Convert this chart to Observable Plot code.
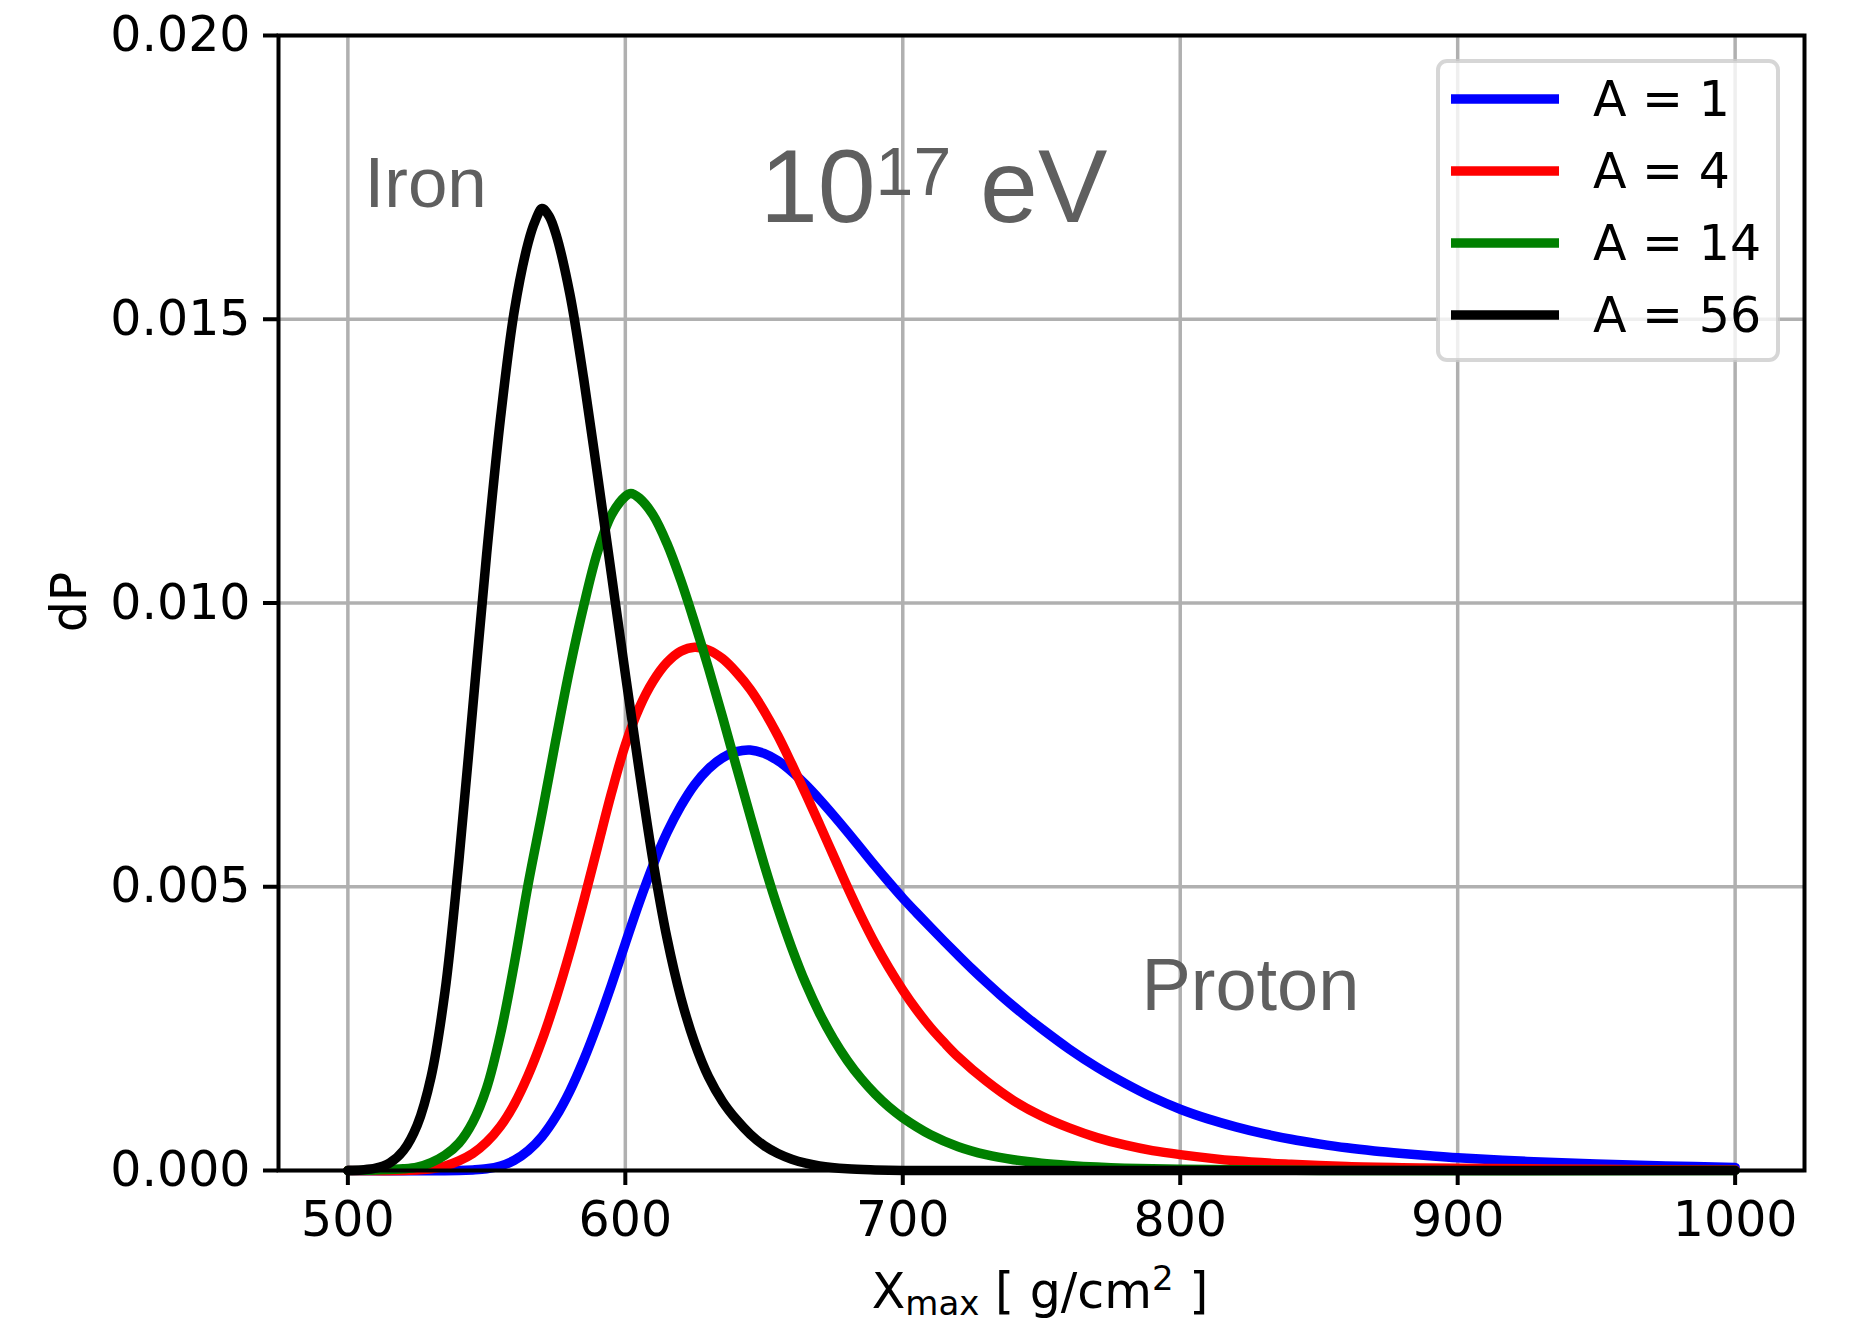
<!DOCTYPE html>
<html>
<head>
<meta charset="utf-8">
<script src="https://cdn.jsdelivr.net/npm/d3@7"></script>
<script src="https://cdn.jsdelivr.net/npm/@observablehq/plot@0.6"></script>
<style>
html, body { margin: 0; padding: 0; background: #fff; }
#wrap { position: relative; width: 1850px; height: 1323px; }
#legend { position: absolute; left: 1436px; top: 59px; }
</style>
</head>
<body>
<div id="wrap"></div>
<script>
// ---- Data ----
const seriesNames  = ["A = 1", "A = 4", "A = 14", "A = 56"];
const seriesColors = ["blue", "red", "green", "black"];

const xA1 = [500, 540, 545, 550, 555, 560, 565, 570, 575, 580, 585, 590, 595, 600, 605, 610, 615, 620, 625, 630, 635, 640, 645, 650, 655, 660, 665, 670, 675, 680, 685, 690, 695, 700,
             705, 710, 715, 720, 725, 730, 735, 740, 745, 750, 760, 770, 780, 790, 800, 810, 820, 830, 840, 850, 860, 870, 880, 890, 900, 925, 950, 975, 1000];
const yA1 = [0, 0, 0.00001, 0.00003, 0.00008, 0.00018, 0.00035, 0.0006, 0.00095, 0.0014, 0.00195, 0.00258, 0.00327, 0.004, 0.00472, 0.00538, 0.00595, 0.00642, 0.0068, 0.00708, 0.00727, 0.00738, 0.00741, 0.00735, 0.00722, 0.00703, 0.0068, 0.00654, 0.00626, 0.00597, 0.00567, 0.00537, 0.00508, 0.0048,
             0.00454, 0.004285, 0.004035, 0.00379, 0.00355, 0.00332, 0.0031, 0.00289, 0.00269, 0.0025, 0.00214, 0.00182, 0.00154, 0.00129, 0.00108, 0.00091, 0.00077, 0.00065, 0.00055, 0.00047, 0.0004, 0.000345, 0.0003, 0.00026, 0.000225, 0.00016, 0.000115, 0.00008, 0.000055];

const xA4 = [500, 520, 525, 530, 535, 540, 545, 550, 555, 560, 565, 570, 575, 580, 585, 590, 595, 600, 605, 610, 615, 620, 625, 630, 635, 640, 645, 650, 655, 660, 665, 670, 675, 680, 685, 690, 695, 700, 705, 710,
             715, 720, 730, 740, 750, 760, 770, 780, 790, 800, 820, 840, 860, 880, 900, 950, 1000];
const yA4 = [0, 0, 0.00001, 0.00003, 0.00008, 0.00017, 0.0003, 0.0005, 0.00078, 0.00117, 0.00168, 0.0023, 0.00303, 0.00385, 0.00475, 0.0057, 0.00665, 0.0075, 0.00815, 0.00862, 0.00895, 0.00915, 0.00922, 0.00917, 0.00902, 0.00878, 0.00848, 0.0081, 0.00766, 0.00716, 0.00664, 0.0061, 0.00555, 0.005, 0.00448, 0.004, 0.00357, 0.00318, 0.00283, 0.00252,
             0.00225, 0.002, 0.00158, 0.00123, 0.00096, 0.00075, 0.00058, 0.00045, 0.00035, 0.00028, 0.00017, 0.00011, 0.00007, 0.00005, 0.00004, 0.00002, 0.00001];

const xA14 = [500, 510, 520, 525, 530, 535, 540, 545, 550, 555, 560, 565, 570, 575, 580, 585, 590, 595, 600, 602, 605, 610, 615, 620, 625, 630, 635, 640, 645, 650, 655, 660, 665, 670, 675, 680, 685, 690, 695, 700,
              710, 720, 730, 740, 750, 760, 770, 780, 800, 850, 1000];
const yA14 = [0, 0.00001, 0.00003, 0.00006, 0.00014, 0.00027, 0.00048, 0.00085, 0.00145, 0.0024, 0.00365, 0.00505, 0.0063, 0.0076, 0.00885, 0.00995, 0.0109, 0.01155, 0.01188, 0.01193, 0.01185, 0.01155, 0.01105, 0.0104, 0.00965, 0.00885, 0.008, 0.00712, 0.00625, 0.0054, 0.00462, 0.00392, 0.0033, 0.00277, 0.00232, 0.00194, 0.00162, 0.00135, 0.00112, 0.00093,
              0.00063, 0.00042, 0.00028, 0.00019, 0.00013, 0.00009, 0.00006, 0.00004, 0.00002, 0, 0];

const xA56 = [500, 505, 510, 515, 520, 525, 530, 535, 540, 545, 550, 555, 560, 565, 567.5, 570, 572.5, 575, 580, 585, 590, 595, 600, 605, 610, 615, 620, 625, 630, 635, 640, 645, 650, 655, 660, 665, 670, 680, 690, 700, 750, 1000];
const yA56 = [0, 0.00001, 0.00004, 0.00013, 0.00035, 0.0008, 0.00165, 0.00315, 0.00545, 0.00815, 0.01085, 0.01325, 0.01515, 0.01635, 0.01673, 0.01695, 0.01682, 0.0165, 0.01545, 0.01395, 0.01225, 0.0105, 0.00875, 0.00705, 0.00545, 0.0041, 0.00305, 0.00225, 0.00165, 0.00122, 0.0009, 0.00064, 0.00044, 0.0003, 0.0002, 0.00013, 0.00008, 0.00003, 0.00001, 0, 0, 0];

const xTicks = [500, 600, 700, 800, 900, 1000];
const yTicks = [0, 0.005, 0.010, 0.015, 0.020];

const noteText = ["Iron", "Proton", "10^17 eV"];
const noteX    = [506, 786, 648.5];
const noteY    = [0.01697, 0.00282, 0.01671];
const noteSize = [71, 74, 104];

// ---- Build table ----
const xsAll = [xA1, xA4, xA14, xA56];
const ysAll = [yA1, yA4, yA14, yA56];
const rows = [];
seriesNames.forEach((name, i) => {
  xsAll[i].forEach((x, j) => rows.push({ series: name, x, y: ysAll[i][j] }));
});
const notes = noteText.map((t, i) => ({ t, x: noteX[i], y: noteY[i], s: noteSize[i] }));

const chart = Plot.plot({
  width: 1850,
  height: 1323,
  marginLeft: 278,
  marginRight: 46,
  marginTop: 35,
  marginBottom: 153,
  style: { fontFamily: "DejaVu Sans", fontSize: "49px", background: "white", color: "black", overflow: "visible" },
  x: { domain: [475, 1025] },
  y: { domain: [0, 0.02] },
  color: { domain: seriesNames, range: seriesColors },
  marks: [
    Plot.gridX(xTicks, { stroke: "#b0b0b0", strokeOpacity: 1, strokeWidth: 3.5 }),
    Plot.gridY(yTicks, { stroke: "#b0b0b0", strokeOpacity: 1, strokeWidth: 3.5 }),
    Plot.line(rows, { x: "x", y: "y", z: "series", stroke: "series", strokeWidth: 9.5, curve: "catmull-rom", strokeLinejoin: "round" }),
    ...notes.map(n => Plot.text([n], { x: "x", y: "y", text: "t", textAnchor: "start", lineAnchor: "bottom", fill: "#5f5f5f", fontSize: n.s, fontFamily: "Liberation Sans" })),
    Plot.axisX({ ticks: xTicks, tickSize: 15, tickPadding: 16, strokeWidth: 4, label: null, tickFormat: d3.format("d"), fontSize: 49 }),
    Plot.axisY({ ticks: yTicks, tickSize: 15, tickPadding: 13, strokeWidth: 4, label: null, tickFormat: d3.format(".3f"), fontSize: 49 }),
    Plot.frame({ stroke: "black", strokeWidth: 4 })
  ]
});

document.getElementById("wrap").appendChild(chart);

// Superscript in the energy annotation
d3.select(chart).selectAll("text").filter(function () { return this.textContent === "10^17 eV"; })
  .each(function () {
    const t = d3.select(this);
    t.text(null);
    t.append("tspan").text("10");
    t.append("tspan").attr("font-size", 68).attr("dy", -27).text("17");
    t.append("tspan").attr("dy", 27).text(" eV");
  });

// Axis titles
const svg = d3.select(chart);
const xl = svg.append("text")
  .attr("x", 1040).attr("y", 1308)
  .attr("text-anchor", "middle")
  .attr("font-family", "DejaVu Sans").attr("font-size", 49).attr("fill", "black");
xl.append("tspan").text("X");
xl.append("tspan").attr("font-size", 34).attr("dy", 7).text("max");
xl.append("tspan").attr("dy", -7).text(" [ g/cm");
xl.append("tspan").attr("font-size", 34).attr("dy", -18).text("2");
xl.append("tspan").attr("dy", 18).text(" ]");

svg.append("text")
  .attr("transform", "translate(86,602) rotate(-90)")
  .attr("text-anchor", "middle")
  .attr("font-family", "DejaVu Sans").attr("font-size", 49).attr("fill", "black")
  .text("dP");

// Legend (overlay inside the plot area, top right)
const leg = d3.select("#wrap").append("svg")
  .attr("id", "legend").attr("width", 345).attr("height", 305);
leg.append("rect")
  .attr("x", 2).attr("y", 2).attr("width", 340).attr("height", 299).attr("rx", 9)
  .attr("fill", "white").attr("fill-opacity", 0.8)
  .attr("stroke", "#cccccc").attr("stroke-opacity", 0.8).attr("stroke-width", 4);
seriesNames.forEach((name, i) => {
  const cy = 40 + i * 72;
  leg.append("line").attr("x1", 15).attr("x2", 123).attr("y1", cy).attr("y2", cy)
    .attr("stroke", seriesColors[i]).attr("stroke-width", 9.5);
  leg.append("text").attr("x", 157).attr("y", cy + 17)
    .attr("font-family", "DejaVu Sans").attr("font-size", 49).attr("fill", "black")
    .text(name);
});
</script>
</body>
</html>
